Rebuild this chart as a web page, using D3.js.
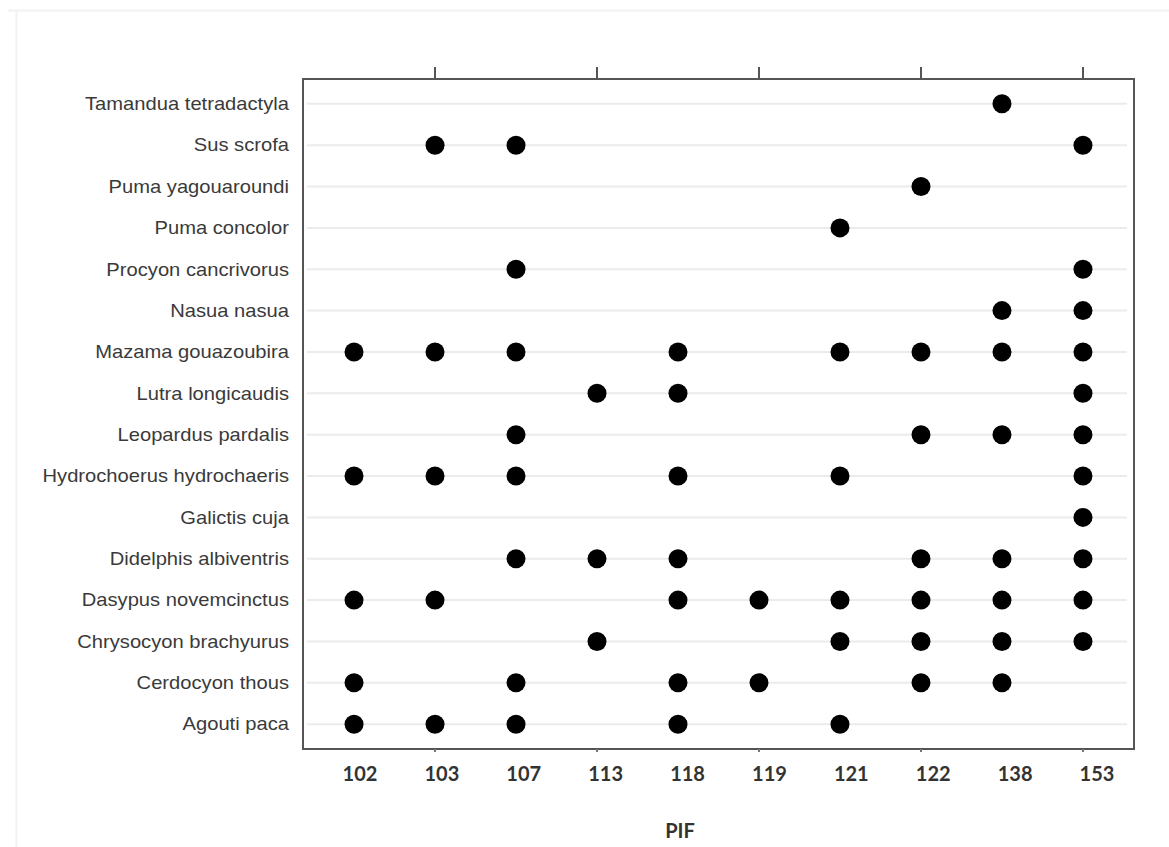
<html>
<head>
<script src="https://d3js.org/d3.v7.min.js"></script>
<style>
  body { margin: 0; background: #fff; }
  .ylab { font-family: 'Liberation Sans', Arial, sans-serif; font-size: 18px; fill: #3a3a3a; }
  .xlab { font-family: Lato, 'Open Sans', sans-serif; font-weight: bold; font-size: 20px; fill: #333; }
</style>
</head>
<body>
<svg id="chart" width="1169" height="847"></svg>
<script>
  const pifCodes = ['102', '103', '107', '113', '118', '119', '121', '122', '138', '153'];
  const species = ['Tamandua tetradactyla', 'Sus scrofa', 'Puma yagouaroundi', 'Puma concolor',
    'Procyon cancrivorus', 'Nasua nasua', 'Mazama gouazoubira', 'Lutra longicaudis',
    'Leopardus pardalis', 'Hydrochoerus hydrochaeris', 'Galictis cuja', 'Didelphis albiventris',
    'Dasypus novemcinctus', 'Chrysocyon brachyurus', 'Cerdocyon thous', 'Agouti paca'];
  // PIFs where each species was recorded (same order as species)
  const recordedAt = [
    ['138'],
    ['103', '107', '153'],
    ['122'],
    ['121'],
    ['107', '153'],
    ['138', '153'],
    ['102', '103', '107', '118', '121', '122', '138', '153'],
    ['113', '118', '153'],
    ['107', '122', '138', '153'],
    ['102', '103', '107', '118', '121', '153'],
    ['153'],
    ['107', '113', '118', '122', '138', '153'],
    ['102', '103', '118', '119', '121', '122', '138', '153'],
    ['113', '121', '122', '138', '153'],
    ['102', '107', '118', '119', '122', '138'],
    ['102', '103', '107', '118', '121']
  ];
  const topTicks = ['103', '113', '119', '122', '153'];

  const svg = d3.select('#chart');
  const plotL = 303, plotR = 1134, plotT = 79, plotB = 749;

  var x = d3.scalePoint().domain(pifCodes).range([plotL, plotR]).padding(0.63);
  var xLab = d3.scalePoint().domain(pifCodes).range([360, 1097]);
  var y = d3.scalePoint().domain(species).range([plotT, plotB]).padding(0.6);

  // faint outer frame
  svg.append('line').attr('x1', 8).attr('x2', 1169).attr('y1', 10.5).attr('y2', 10.5)
    .attr('stroke', '#f2f2f2').attr('stroke-width', 2);
  svg.append('line').attr('x1', 16.5).attr('x2', 16.5).attr('y1', 10).attr('y2', 847)
    .attr('stroke', '#f2f2f2').attr('stroke-width', 2);

  // grid lines
  svg.append('g').selectAll('line').data(species).enter().append('line')
    .attr('x1', plotL + 4).attr('x2', plotR - 7)
    .attr('y1', d => y(d)).attr('y2', d => y(d))
    .attr('stroke', '#ebebeb').attr('stroke-width', 2);

  // frame
  svg.append('rect').attr('x', plotL).attr('y', plotT)
    .attr('width', plotR - plotL).attr('height', plotB - plotT)
    .attr('fill', 'none').attr('stroke', '#555').attr('stroke-width', 2);

  // top ticks
  svg.append('g').selectAll('line').data(topTicks).enter().append('line')
    .attr('x1', d => x(d)).attr('x2', d => x(d))
    .attr('y1', plotT).attr('y2', plotT - 12)
    .attr('stroke', '#555').attr('stroke-width', 2);
  // bottom ticks (tiny)
  svg.append('g').selectAll('line').data(topTicks).enter().append('line')
    .attr('x1', d => x(d)).attr('x2', d => x(d))
    .attr('y1', plotB).attr('y2', plotB + 3)
    .attr('stroke', '#777').attr('stroke-width', 2);

  // species labels (source image is stretched horizontally)
  svg.append('g').selectAll('text').data(species).enter().append('text')
    .attr('class', 'ylab')
    .attr('transform', d => 'translate(289,' + y(d) + ') scale(1.12,1)')
    .attr('dy', '0.35em')
    .attr('text-anchor', 'end')
    .text(d => d);

  // PIF labels
  svg.append('g').selectAll('text').data(pifCodes).enter().append('text')
    .attr('class', 'xlab')
    .attr('x', d => xLab(d)).attr('y', 781)
    .attr('text-anchor', 'middle')
    .text(d => d);

  svg.append('text').attr('class', 'xlab')
    .attr('x', 680).attr('y', 838).attr('text-anchor', 'middle')
    .text('PIF');

  // dots
  var points = [];
  species.forEach((s, i) => recordedAt[i].forEach(p => points.push({s: s, p: p})));
  svg.append('g').selectAll('circle').data(points).enter().append('circle')
    .attr('cx', d => x(d.p)).attr('cy', d => y(d.s))
    .attr('r', 9.5).attr('fill', '#000');
</script>
</body>
</html>
